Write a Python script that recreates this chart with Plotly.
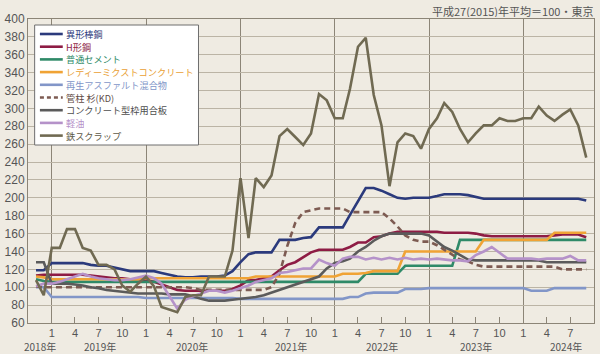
import pandas as pd
import plotly.graph_objects as go

months = pd.date_range("2018-11-01", "2024-09-01", freq="MS")

names = ["異形棒鋼", "H形鋼", "普通セメント", "レディーミクストコンクリート",
         "再生アスファルト混合物", "管柱 杉(KD)", "コンクリート型枠用合板", "軽油", "鉄スクラップ"]

rebar = [119, 119,
         127, 127, 127, 127, 127, 125, 124, 124, 122, 120, 118, 118,
         118, 118, 116, 114, 112, 111, 111, 112, 112, 112, 113, 118,
         128, 137, 139, 139, 139, 153, 153, 153, 155, 156, 167, 167,
         167, 167, 181, 197, 211, 211, 208, 204, 200, 199, 200, 200,
         200, 202, 204, 204, 204, 203, 201, 199, 199, 199, 199, 199,
         199, 199, 199, 199, 199, 199, 199, 199, 197]
hbeam = [113, 114,
         114, 114, 114, 114, 114, 113, 112, 111, 110, 110, 109, 109,
         108, 106, 103, 100, 97, 96, 96, 96, 96, 96, 96, 98,
         102, 108, 108, 110, 112, 119, 125, 128, 134, 139, 142, 142,
         142, 142, 145, 150, 150, 156, 157, 160, 162, 162, 162, 162,
         162, 162, 161, 161, 161, 161, 160, 158, 157, 157, 157, 157,
         157, 157, 157, 157, 158, 159, 159, 159, 156]
cement = [109, 107,
          106, 106, 106, 106, 106, 106, 106, 106, 106, 106, 106, 106,
          106, 106, 106, 106, 106, 106, 106, 106, 106, 106, 106, 106,
          106, 106, 106, 106, 106, 106, 106, 106, 106, 106, 106, 106,
          106, 106, 106, 106, 115, 115, 115, 115, 115, 124, 124, 124,
          124, 124, 124, 124, 153, 153, 153, 153, 153, 153, 153, 153,
          153, 153, 153, 153, 153, 153, 153, 153, 153]
concrete = [112, 111,
            109, 109, 109, 109, 109, 109, 109, 109, 109, 109, 109, 109,
            110, 110, 110, 110, 110, 110, 110, 110, 110, 110, 110, 110,
            110, 110, 112, 112, 112, 112, 112, 112, 112, 112, 112, 112,
            112, 115, 115, 115, 116, 118, 118, 118, 118, 140, 140, 140,
            140, 140, 140, 140, 140, 140, 140, 153, 153, 153, 153, 153,
            153, 153, 153, 153, 161, 161, 161, 161, 161]
asphalt = [100, 100,
           89, 89, 89, 89, 89, 89, 89, 89, 89, 89, 89, 89,
           88, 88, 88, 88, 88, 88, 88, 88, 88, 88, 88, 88,
           87, 87, 87, 87, 87, 87, 87, 87, 87, 87, 87, 87,
           87, 87, 89, 89, 93, 94, 94, 94, 94, 98, 98, 98,
           99, 99, 99, 99, 99, 99, 99, 99, 99, 99, 99, 99,
           99, 96, 96, 96, 99, 99, 99, 99, 99]
cedar = [101, 100,
         100, 100, 100, 100, 100, 100, 100, 100, 100, 100, 100, 100,
         100, 100, 100, 100, 100, 100, 99, 97, 97, 97, 97, 97,
         97, 97, 97, 97, 100, 115, 146, 172, 184, 186, 188, 188,
         188, 188, 184, 184, 184, 184, 184, 177, 168, 158, 153, 151,
         151, 147, 142, 136, 131, 129, 125, 123, 123, 123, 123, 123,
         123, 123, 123, 123, 123, 120, 120, 120, 120]
plywood = [128, 128,
           104, 104, 104, 103, 102, 100, 99, 97, 96, 95, 94, 93,
           93, 93, 93, 92, 92, 92, 90, 87, 85, 85, 85, 86,
           87, 88, 89, 91, 94, 97, 100, 103, 106, 109, 112, 121,
           127, 129, 132, 140, 145, 152, 157, 160, 160, 160, 160, 160,
           158, 151, 145, 141, 136, 131, 130, 130, 130, 130, 130, 130,
           130, 130, 130, 128, 128, 128, 128, 128, 128]
diesel = [101, 104,
          104, 106, 109, 112, 115, 112, 110, 109, 108, 108, 109, 111,
          113, 110, 104, 90, 76, 86, 90, 93, 96, 96, 94, 96,
          99, 102, 106, 108, 110, 116, 117, 119, 121, 121, 131, 127,
          124, 132, 134, 134, 131, 133, 131, 133, 131, 133, 131, 132,
          131, 132, 131, 130, 130, 129, 136, 140, 145, 139, 132, 132,
          132, 132, 131, 132, 132, 132, 135, 130, 130]
scrap = [108, 91,
         144, 144, 165, 165, 144, 141, 125, 125, 120, 102, 95, 104,
         112, 101, 78, 75, 72, 89, 91, 91, 112, 112, 112, 141,
         222, 155, 222, 212, 225, 269, 277, 268, 259, 272, 316, 309,
         289, 289, 322, 369, 379, 315, 281, 213, 262, 272, 269, 255,
         277, 289, 306, 296, 277, 262, 272, 281, 281, 289, 286, 286,
         289, 289, 302, 292, 286, 293, 299, 281, 245]

series = [rebar, hbeam, cement, concrete, asphalt, cedar, plywood, diesel, scrap]
colors = ["#2b3a7c", "#8e1c44", "#2f8a68", "#f0a335", "#8296c8",
          "#7d5b52", "#5b5b5b", "#b592c9", "#706a52"]
text_colors = ["#2b3a7c", "#8e1c44", "#2f8a68", "#e9a035", "#8296c8",
               "#5e4a44", "#4e4e4e", "#b592c9", "#5e5a48"]
dashes = ["solid"] * 5 + ["6px,4px"] + ["solid"] * 3

month_ticks = pd.date_range("2019-01-01", "2024-07-01", freq="3MS")
month_text = [str(d.month) for d in month_ticks]
jan_ticks = pd.date_range("2019-01-01", "2024-01-01", freq="YS")
year_labels = ["2018年", "2019年", "2020年", "2021年", "2022年", "2023年", "2024年"]
year_pos = ["2018-11-16", "2019-07-06", "2020-06-28", "2021-07-15",
            "2022-07-04", "2023-07-03", "2024-06-15"]

BG = "#efebe2"
GRID = "#bbb4a5"
DARK = "#8c8577"
TXT = "#555555"

fig = go.Figure()
for name, vals, c, d in zip(names, series, colors, dashes):
    fig.add_trace(go.Scatter(x=months, y=vals, name=name, mode="lines",
                             line=dict(color=c, width=2.6, dash=d),
                             showlegend=False))

# plot area in pixels
L, R, T, B = 25, 595, 19, 323
W, H = 600, 354


def px(xp):
    return (xp - L) / (R - L)


def py(yp):
    return (B - yp) / (B - T)


shapes = []
annotations = []
# legend box
shapes.append(dict(type="rect", xref="paper", yref="paper",
                   x0=px(31.7), x1=px(196.7), y0=py(145), y1=py(25),
                   fillcolor="white", line=dict(color="#6e6e6e", width=1), layer="above"))
for i, (name, c, tc, d) in enumerate(zip(names, colors, text_colors, dashes)):
    yy = 34 + i * 12.7
    shapes.append(dict(type="line", xref="paper", yref="paper",
                       x0=px(37), x1=px(60), y0=py(yy), y1=py(yy),
                       line=dict(color=c, width=2.6, dash="4px,3px" if d != "solid" else "solid"),
                       layer="above"))
    annotations.append(dict(text=name, xref="paper", yref="paper", x=px(62.5), y=py(yy),
                            xanchor="left", yanchor="middle", showarrow=False,
                            height=12, valign="middle", borderpad=0,
                            font=dict(size=9.2, color=tc, family="Noto Sans CJK JP")))

for lab, pos in zip(year_labels, year_pos):
    annotations.append(dict(text=lab, xref="x", yref="paper", x=pos, y=0, yshift=-23.5,
                            xanchor="center", yanchor="middle", showarrow=False,
                            height=11, valign="middle", borderpad=0,
                            font=dict(size=10, color=TXT, family="Noto Sans CJK JP")))

annotations.append(dict(text="平成27(2015)年平均＝100・東京", xref="paper", yref="paper",
                        x=1, y=1, yshift=9, xanchor="right", yanchor="middle", showarrow=False,
                        height=13, valign="middle", borderpad=0,
                        font=dict(size=11, color=TXT, family="Noto Sans CJK JP")))

fig.update_layout(
    width=W, height=H,
    margin=dict(l=L, r=W - R, t=T, b=H - B, pad=0),
    paper_bgcolor=BG, plot_bgcolor=BG,
    shapes=shapes, annotations=annotations,
    showlegend=False,
    font=dict(family="Liberation Sans", color=TXT, size=12),
)
fig.update_yaxes(range=[60, 400], tickvals=list(range(60, 401, 20)),
                 showgrid=True, gridcolor=GRID, gridwidth=1, zeroline=False,
                 showline=True, linecolor=DARK, linewidth=1, mirror=True,
                 ticks="", tickfont=dict(size=12, color=TXT))
fig.update_xaxes(type="date", range=["2018-10-01", "2024-10-01"],
                 tickvals=list(month_ticks), ticktext=month_text,
                 ticks="inside", ticklen=6, tickcolor=DARK, tickwidth=1,
                 showgrid=False, zeroline=False,
                 minor=dict(tickvals=list(jan_ticks), showgrid=True, gridcolor=DARK,
                            gridwidth=1, ticks=""),
                 showline=True, linecolor=DARK, linewidth=1, mirror=True,
                 tickfont=dict(size=11, color=TXT))

fig.write_html("out.html")
